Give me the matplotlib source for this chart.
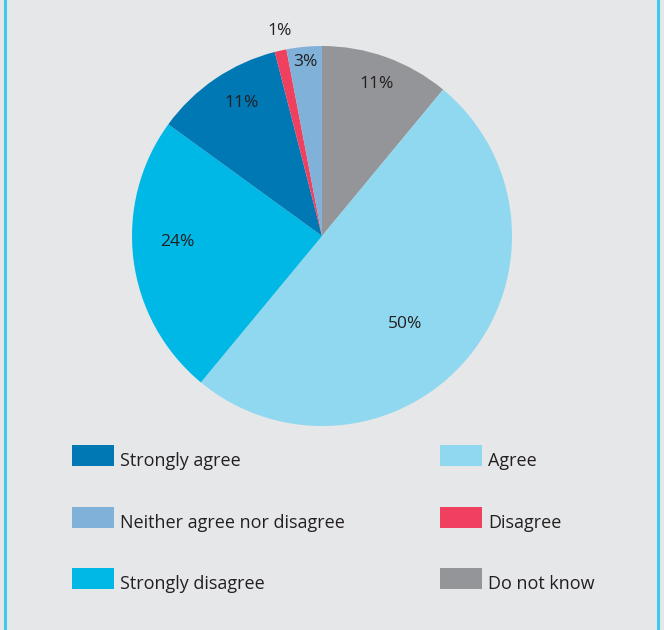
import matplotlib
matplotlib.use("Agg")
import matplotlib.pyplot as plt
import numpy as np
from matplotlib.patches import Rectangle
from matplotlib.lines import Line2D

# survey answers, clockwise from 12 o'clock
categories = ["Do not know", "Agree", "Strongly disagree", "Strongly agree",
              "Disagree", "Neither agree nor disagree"]
values = [11, 50, 24, 11, 1, 3]
colors = ["#949599", "#8fd8f0", "#00b8e6", "#0078b4", "#f04060", "#80b1d8"]

# legend layout: two columns, three rows
legend_order = [["Strongly agree", "Neither agree nor disagree", "Strongly disagree"],
                ["Agree", "Disagree", "Do not know"]]

# where each percentage sits (radius, angle nudge in degrees)
label_r = [0.85, 0.64, 0.76, 0.82, 1.1, 0.92]
label_shift = [0, -7, -5, -3, -1, 0]

plt.rcParams["font.family"] = ["Open Sans", "DejaVu Sans"]
bg = "#e6e7e9"
W, H = 664, 630
fig = plt.figure(figsize=(W / 100, H / 100), dpi=100, facecolor=bg)

cx, cy, r = 322, 236, 190
ax = fig.add_axes([(cx - r) / W, (H - cy - r) / H, 2 * r / W, 2 * r / H])
ax.set_facecolor(bg)
wedges, _ = ax.pie(values, colors=colors, startangle=90, counterclock=False,
                   radius=1, wedgeprops=dict(linewidth=0))
ax.set_xlim(-1, 1)
ax.set_ylim(-1, 1)
ax.axis("off")

for w, v, lr, sh in zip(wedges, values, label_r, label_shift):
    ang = np.deg2rad((w.theta1 + w.theta2) / 2 + sh)
    ax.text(lr * np.cos(ang), lr * np.sin(ang), f"{v}%", ha="center",
            va="center", fontsize=12.5, color="#231f20")

# manual legend
col_box_x = [72, 440]
row_y = [455, 517, 578]
for ci, col in enumerate(legend_order):
    for ri, name in enumerate(col):
        c = colors[categories.index(name)]
        x0 = col_box_x[ci]
        y0 = row_y[ri]
        fig.add_artist(Rectangle((x0 / W, 1 - (y0 + 10.5) / H), 42 / W, 21 / H,
                                 transform=fig.transFigure, color=c, lw=0))
        fig.text((x0 + 48) / W, 1 - (y0 + 6) / H, name, ha="left", va="center",
                 fontsize=13, color="#231f20")

# cyan side rules
for x in [4.5, 657.5]:
    fig.add_artist(Line2D([x / W, x / W], [0, 1], transform=fig.transFigure,
                          color="#3fc8f0", lw=2.2))

fig.savefig("out.png", dpi=100, facecolor=bg)
